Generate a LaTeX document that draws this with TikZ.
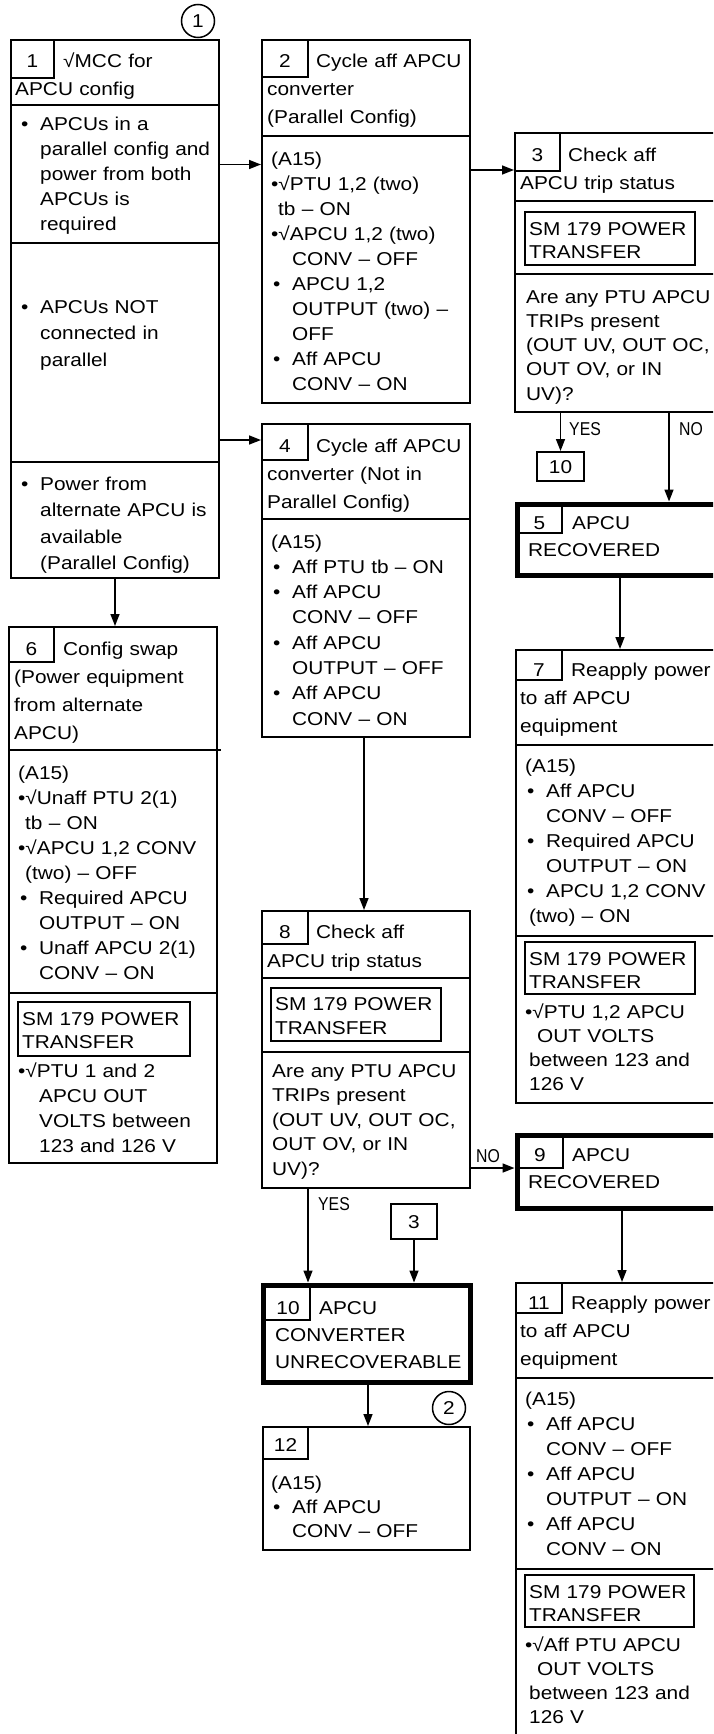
\documentclass[tikz,border=0pt]{standalone}
\usepackage{fontspec}
\setmainfont{Liberation Sans}[FakeStretch=1.12]
\newfontfamily\narrowf{Liberation Sans}[FakeStretch=0.85]
\usetikzlibrary{arrows.meta,fit}
\newcommand\myb{\makebox[21pt][l]{\hspace{2pt}•}}
\newcommand\myi{\hspace*{21pt}}
\begin{document}
\begin{tikzpicture}[x=1pt,y=-1pt,
  frm/.style={draw, line width=2pt, inner sep=0pt},
  tfrm/.style={draw, line width=5pt, inner sep=0pt},
  nbox/.style={draw, line width=1.3pt, inner sep=0pt},
  smb/.style={draw, line width=2pt, inner sep=0pt},
  sepl/.style={line width=2pt},
  arr/.style={line width=1.6pt, -{Triangle[length=12pt,width=9pt]}},
  tx/.style={anchor=base west, inner sep=0pt, text width=240pt, align=left, font=\fontsize{18.6}{#1}\selectfont},
  tx/.default=25,
  hd/.style={anchor=base west, inner sep=0pt, text width=240pt, align=left, font=\fontsize{18.6}{#1}\selectfont},
  hd/.default=28,
  num/.style={anchor=base, inner sep=0pt, font=\fontsize{18.6}{20}\selectfont},
  lbl/.style={anchor=base west, inner sep=0pt, font=\narrowf\fontsize{18.6}{20}\selectfont},
  circ/.style={circle, draw, line width=1.5pt, minimum size=33pt, inner sep=0pt, font=\fontsize{18.6}{20}\selectfont}
]
\useasboundingbox (0,0) rectangle (713,1734);
\clip (0,0) rectangle (713,1734);
\fill[white] (0,0) rectangle (713,1734);

% ---------- Box 1 ----------
\node[circ] (c1) at (198,21) {1};
\node[frm, fit={(11,40)(219,578)}] (b1) {};
\node[nbox, fit={(11,40)(54,78)}] (b1n) {};
\draw[sepl] (11,105) -- (219,105) (11,243) -- (219,243) (11,462) -- (219,462);
\node[num] (t1n) at (32.5,68) {1};
\node[hd] (t1h) at (15,68) {\hspace*{48pt}√MCC for\\APCU config};
\node[tx=25] (t1a) at (19,131) {\myb APCUs in a\\\myi parallel config and\\\myi power from both\\\myi APCUs is\\\myi required};
\node[tx=26.5] (t1b) at (19,313) {\myb APCUs NOT\\\myi connected in\\\myi parallel};
\node[tx=26.5] (t1c) at (19,490) {\myb Power from\\\myi alternate APCU is\\\myi available\\\myi (Parallel Config)};

% ---------- Box 2 ----------
\node[frm, fit={(262,40)(470,403)}] (b2) {};
\node[nbox, fit={(262,40)(308,77)}] (b2n) {};
\draw[sepl] (262,136) -- (470,136);
\node[num] (t2n) at (285,68) {2};
\node[hd] (t2h) at (267,68) {\hspace*{49pt}Cycle aff APCU\\converter\\(Parallel Config)};
\node[tx=25] (t2a) at (271,165) {(A15)\\•√PTU 1,2 (two)\\\hspace*{7pt}tb – ON\\•√APCU 1,2 (two)\\\myi CONV – OFF\\\myb APCU 1,2\\\myi OUTPUT (two) –\\\myi OFF\\\myb Aff APCU\\\myi CONV – ON};

% ---------- Box 3 ----------
\node[frm, fit={(515,133)(730,412)}] (b3) {};
\node[nbox, fit={(515,133)(560,171)}] (b3n) {};
\draw[sepl] (515,201) -- (730,201) (515,274) -- (730,274);
\node[smb, fit={(525,212)(695,265)}] (b3s) {};
\node[num] (t3n) at (537.5,161) {3};
\node[hd] (t3h) at (520,161) {\hspace*{48pt}Check aff\\APCU trip status};
\node[tx=23.5] (t3s) at (529,235) {SM 179 POWER\\TRANSFER};
\node[tx=24.3] (t3q) at (526,303) {Are any PTU APCU\\TRIPs present\\(OUT UV, OUT OC,\\OUT OV, or IN\\UV)?};
\node[nbox, line width=2pt, fit={(537,452)(584,481)}] (r10) {};
\node[num] (tr10) at (560.5,473.5) {10};
\node[lbl] (lyes1) at (569,435) {YES};
\node[lbl] (lno1) at (679,435) {NO};

% ---------- Box 4 ----------
\node[frm, fit={(262,424)(470,737)}] (b4) {};
\node[nbox, fit={(262,424)(308,460)}] (b4n) {};
\draw[sepl] (262,519) -- (470,519);
\node[num] (t4n) at (285,452) {4};
\node[hd] (t4h) at (267,452) {\hspace*{49pt}Cycle aff APCU\\converter (Not in\\Parallel Config)};
\node[tx=25.3] (t4a) at (271,548) {(A15)\\\myb Aff PTU tb – ON\\\myb Aff APCU\\\myi CONV – OFF\\\myb Aff APCU\\\myi OUTPUT – OFF\\\myb Aff APCU\\\myi CONV – ON};

% ---------- Box 5 ----------
\node[tfrm, fit={(517,504)(730,575)}] (b5) {};
\node[nbox, fit={(517,504)(562,533)}] (b5n) {};
\node[num] (t5n) at (539.5,529) {5};
\node[hd=27] (t5h) at (528,529) {\hspace*{44pt}APCU\\RECOVERED};

% ---------- Box 6 ----------
\node[frm, fit={(9,627)(217,1163)}] (b6) {};
\node[nbox, fit={(9,627)(54,662)}] (b6n) {};
\draw[sepl] (9,750) -- (221,750) (9,993) -- (217,993);
\node[smb, fit={(18,1002)(190,1056)}] (b6s) {};
\node[num] (t6n) at (31.5,655) {6};
\node[hd] (t6h) at (14,655) {\hspace*{49pt}Config swap\\(Power equipment\\from alternate\\APCU)};
\node[tx=25] (t6a) at (18,779) {(A15)\\•√Unaff PTU 2(1)\\\hspace*{7pt}tb – ON\\•√APCU 1,2 CONV\\\hspace*{7pt}(two) – OFF\\\myb Required APCU\\\myi OUTPUT – ON\\\myb Unaff APCU 2(1)\\\myi CONV – ON};
\node[tx=23.5] (t6s) at (22,1025) {SM 179 POWER\\TRANSFER};
\node[tx=25] (t6b) at (18,1077) {•√PTU 1 and 2\\\myi APCU OUT\\\myi VOLTS between\\\myi 123 and 126 V};

% ---------- Box 7 ----------
\node[frm, fit={(516,650)(730,1103)}] (b7) {};
\node[nbox, fit={(516,650)(562,680)}] (b7n) {};
\draw[sepl] (516,745) -- (730,745) (516,936) -- (730,936);
\node[smb, fit={(525,942)(695,994)}] (b7s) {};
\node[num] (t7n) at (539,676) {7};
\node[hd] (t7h) at (520,676) {\hspace*{51pt}Reapply power\\to aff APCU\\equipment};
\node[tx=25] (t7a) at (525,772) {(A15)\\\myb Aff APCU\\\myi CONV – OFF\\\myb Required APCU\\\myi OUTPUT – ON\\\myb APCU 1,2 CONV\\\hspace*{4pt}(two) – ON};
\node[tx=23.5] (t7s) at (529,965) {SM 179 POWER\\TRANSFER};
\node[tx=24] (t7b) at (525,1018) {•√PTU 1,2 APCU\\\hspace*{12pt}OUT VOLTS\\\hspace*{4pt}between 123 and\\\hspace*{4pt}126 V};

% ---------- Box 8 ----------
\node[frm, fit={(262,911)(470,1188)}] (b8) {};
\node[nbox, fit={(262,911)(308,944)}] (b8n) {};
\draw[sepl] (262,978) -- (470,978) (262,1052) -- (470,1052);
\node[smb, fit={(271,988)(441,1041)}] (b8s) {};
\node[num] (t8n) at (285,938) {8};
\node[hd=29] (t8h) at (267,938) {\hspace*{49pt}Check aff\\APCU trip status};
\node[tx=24.5] (t8s) at (275,1010) {SM 179 POWER\\TRANSFER};
\node[tx=24.5] (t8q) at (272,1077) {Are any PTU APCU\\TRIPs present\\(OUT UV, OUT OC,\\OUT OV, or IN\\UV)?};
\node[lbl] (lno2) at (476,1162) {NO};
\node[lbl] (lyes2) at (318,1210) {YES};
\node[nbox, line width=2pt, fit={(391,1204)(437,1239)}] (r3) {};
\node[num] (tr3) at (414,1228) {3};

% ---------- Box 9 ----------
\node[tfrm, fit={(517,1135)(730,1208)}] (b9) {};
\node[nbox, fit={(517,1135)(563,1168)}] (b9n) {};
\node[num] (t9n) at (540,1161) {9};
\node[hd=27] (t9h) at (528,1161) {\hspace*{44pt}APCU\\RECOVERED};

% ---------- Box 10 ----------
\node[tfrm, fit={(263,1285)(470,1382)}] (b10) {};
\node[nbox, fit={(263,1285)(310,1320)}] (b10n) {};
\node[num] (t10n) at (288,1314) {10};
\node[hd=27] (t10h) at (275,1314) {\hspace*{44pt}APCU\\CONVERTER\\UNRECOVERABLE};

% ---------- Box 11 ----------
\node[frm, fit={(516,1283)(730,1800)}] (b11) {};
\node[nbox, fit={(516,1283)(562,1313)}] (b11n) {};
\draw[sepl] (516,1378) -- (730,1378) (516,1569) -- (730,1569);
\node[smb, fit={(525,1575)(694,1627)}] (b11s) {};
\node[num] (t11n) at (539,1309) {11};
\node[hd] (t11h) at (520,1309) {\hspace*{51pt}Reapply power\\to aff APCU\\equipment};
\node[tx=25] (t11a) at (525,1405) {(A15)\\\myb Aff APCU\\\myi CONV – OFF\\\myb Aff APCU\\\myi OUTPUT – ON\\\myb Aff APCU\\\myi CONV – ON};
\node[tx=23.5] (t11s) at (529,1598) {SM 179 POWER\\TRANSFER};
\node[tx=24] (t11b) at (525,1651) {•√Aff PTU APCU\\\hspace*{12pt}OUT VOLTS\\\hspace*{4pt}between 123 and\\\hspace*{4pt}126 V};

% ---------- Box 12 ----------
\node[circ] (c2) at (449,1408) {2};
\node[frm, fit={(263,1427)(470,1550)}] (b12) {};
\node[nbox, fit={(263,1427)(308,1459)}] (b12n) {};
\node[num] (t12n) at (285.5,1451) {12};
\node[tx=24] (t12a) at (271,1489) {(A15)\\\myb Aff APCU\\\myi CONV – OFF};

% ---------- connectors ----------
\coordinate (y12) at (0,164.5);
\coordinate (y14) at (0,440);
\coordinate (y23) at (0,170);
\coordinate (x16) at (115,0);
\coordinate (xno1) at (669,0);
\coordinate (x57) at (620,0);
\coordinate (x48) at (364,0);
\coordinate (y89) at (0,1168);
\coordinate (x810) at (308,0);
\coordinate (x1012) at (368,0);
\coordinate (x911) at (622,0);
\draw[arr] (b1.east |- y12) -- (b2.west |- y12);
\draw[arr] (b1.east |- y14) -- (b4.west |- y14);
\draw[arr] (b2.east |- y23) -- (b3.west |- y23);
\draw[arr] (b1.south -| x16) -- (b6.north -| x16);
\draw[arr] (b3.south -| r10.north) -- (r10.north);
\draw[arr] (b3.south -| xno1) -- (b5.north -| xno1);
\draw[arr] (b5.south -| x57) -- (b7.north -| x57);
\draw[arr] (b4.south -| x48) -- (b8.north -| x48);
\draw[arr] (b8.east |- y89) -- (b9.west |- y89);
\draw[arr] (b8.south -| x810) -- (b10.north -| x810);
\draw[arr] (r3.south) -- (r3.south |- b10.north);
\draw[arr] (b10.south -| x1012) -- (b12.north -| x1012);
\draw[arr] (b9.south -| x911) -- (b11.north -| x911);
\end{tikzpicture}
\end{document}
